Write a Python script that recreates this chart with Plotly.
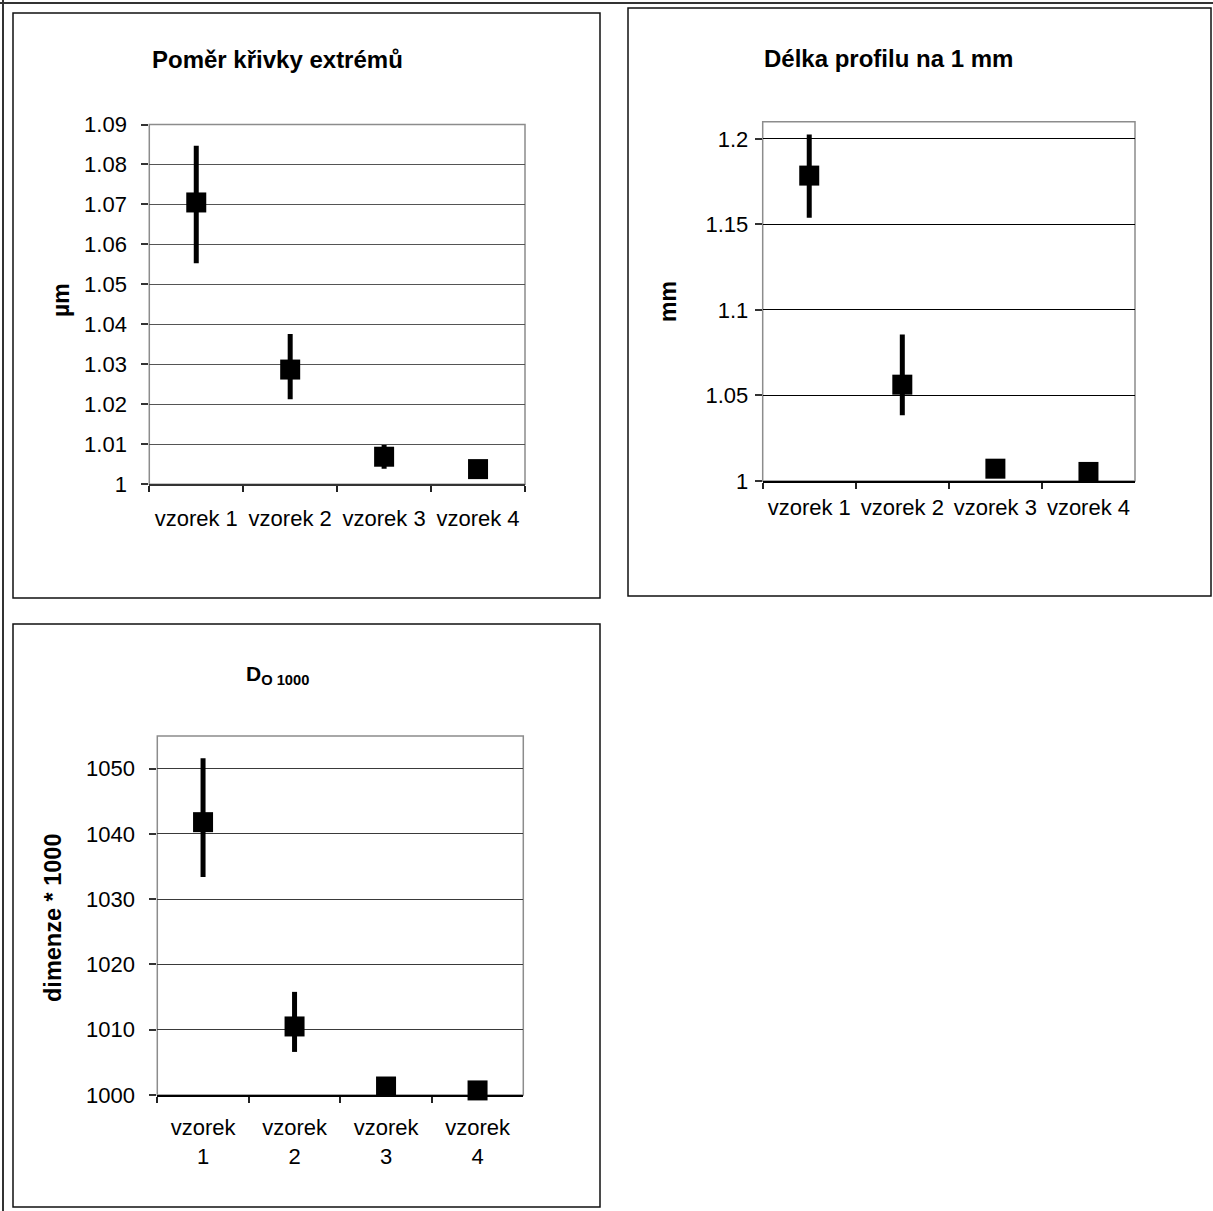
import plotly.graph_objects as go

# ---- data -------------------------------------------------------------
samples = ["vzorek 1", "vzorek 2", "vzorek 3", "vzorek 4"]
samples_wrapped = ["vzorek<br>1", "vzorek<br>2", "vzorek<br>3", "vzorek<br>4"]

# Poměr křivky extrémů [µm]
ratio_mean = [1.0705, 1.0287, 1.0069, 1.0038]
ratio_plus = [0.0142, 0.0089, 0.0029, 0.0010]
ratio_minus = [0.0152, 0.0074, 0.0030, 0.0010]
ratio_ticks = [1.00, 1.01, 1.02, 1.03, 1.04, 1.05, 1.06, 1.07, 1.08, 1.09]
ratio_ticktext = ["1", "1.01", "1.02", "1.03", "1.04", "1.05", "1.06", "1.07", "1.08", "1.09"]

# Délka profilu na 1 mm [mm]
length_mean = [1.1785, 1.0563, 1.0072, 1.0053]
length_plus = [0.0240, 0.0293, 0.0040, 0.0020]
length_minus = [0.0247, 0.0179, 0.0040, 0.0020]
length_ticks = [1.00, 1.05, 1.10, 1.15, 1.20]
length_ticktext = ["1", "1.05", "1.1", "1.15", "1.2"]

# D_O 1000 [dimenze * 1000]
dim_mean = [1041.8, 1010.5, 1001.3, 1000.7]
dim_plus = [9.8, 5.3, 1.0, 0.5]
dim_minus = [8.4, 3.9, 1.0, 0.5]
dim_ticks = [1000, 1010, 1020, 1030, 1040, 1050]
dim_ticktext = ["1000", "1010", "1020", "1030", "1040", "1050"]

# ---- page geometry (pixels) ------------------------------------------
W, H = 1213, 1211
FONT = "Liberation Sans, Arial, sans-serif"
TICK_SIZE = 22


def fx(px):
    return px / W


def fy(py):
    return 1 - py / H


panels = [
    dict(
        name="", x=samples, y=ratio_mean, plus=ratio_plus, minus=ratio_minus,
        ticks=ratio_ticks, ticktext=ratio_ticktext, yrange=[1.0, 1.09],
        xdom=[149.3, 525.0], ydom=[124.5, 484.3],
        grid="#555555", xline="#333333", ystand=10, xstand=13,
    ),
    dict(
        name="2", x=samples, y=length_mean, plus=length_plus, minus=length_minus,
        ticks=length_ticks, ticktext=length_ticktext, yrange=[1.0, 1.21],
        xdom=[762.7, 1135.0], ydom=[121.7, 481.0],
        grid="#000000", xline="#000000", ystand=2, xstand=6,
    ),
    dict(
        name="3", x=samples_wrapped, y=dim_mean, plus=dim_plus, minus=dim_minus,
        ticks=dim_ticks, ticktext=dim_ticktext, yrange=[1000, 1055],
        xdom=[157.3, 523.3], ydom=[736.0, 1095.0],
        grid="#3a3a3a", xline="#000000", ystand=10, xstand=12,
    ),
]

fig = go.Figure()
layout = dict(
    width=W, height=H,
    margin=dict(l=0, r=0, t=0, b=0, pad=0, autoexpand=False),
    paper_bgcolor="white", plot_bgcolor="white", showlegend=False,
    font=dict(family=FONT, size=TICK_SIZE, color="black"),
)
shapes = []
annotations = []

for i, p in enumerate(panels):
    n = p["name"]
    xa, ya = "x" + n, "y" + n
    xkey, ykey = "xaxis" + n, "yaxis" + n
    # overlay axes carry the inner half of the crossing tick marks
    oxkey, oykey = "xaxis" + str(4 + i), "yaxis" + str(4 + i)

    fig.add_trace(go.Scatter(
        x=p["x"], y=p["y"], xaxis=xa, yaxis=ya, mode="markers",
        marker=dict(symbol="square", size=20, color="black", line=dict(width=0)),
        error_y=dict(type="data", symmetric=False, array=p["plus"],
                     arrayminus=p["minus"], thickness=5, width=0, color="black"),
        cliponaxis=False, hoverinfo="skip",
    ))

    xdom = [fx(p["xdom"][0]), fx(p["xdom"][1])]
    ydom = [fy(p["ydom"][1]), fy(p["ydom"][0])]

    layout[xkey] = dict(
        domain=xdom, anchor=ya, type="category", categoryorder="array",
        categoryarray=p["x"], range=[-0.5, 3.5], tickson="boundaries",
        ticks="outside", ticklen=6, tickwidth=1.5, tickcolor="#222222",
        showline=True, linecolor=p["xline"], linewidth=2, showgrid=False,
        ticklabelstandoff=p["xstand"], tickfont=dict(size=TICK_SIZE, family=FONT),
        automargin=False, fixedrange=True,
    )
    layout[ykey] = dict(
        domain=ydom, anchor=xa, range=p["yrange"], tickvals=p["ticks"],
        ticktext=p["ticktext"], ticks="outside", ticklen=7, tickwidth=1.5,
        tickcolor="#333333", showline=False, showgrid=True,
        gridcolor=p["grid"], gridwidth=1, zeroline=False,
        ticklabelstandoff=p["ystand"], tickfont=dict(size=TICK_SIZE, family=FONT),
        automargin=False, fixedrange=True,
    )
    layout[oxkey] = dict(
        overlaying=xa, anchor=ya, side="bottom", type="linear",
        range=[-0.5, 3.5], tickvals=[-0.5, 0.5, 1.5, 2.5, 3.5],
        ticks="inside", ticklen=6, tickwidth=1.5, tickcolor="#222222",
        showticklabels=False, showgrid=False, showline=False, zeroline=False,
        automargin=False, fixedrange=True,
    )
    layout[oykey] = dict(
        overlaying=ya, anchor=xa, side="left", range=p["yrange"],
        tickvals=p["ticks"], ticks="inside", ticklen=6, tickwidth=1.5,
        tickcolor="#333333", showticklabels=False, showgrid=False,
        showline=False, zeroline=False, automargin=False, fixedrange=True,
    )

    # plot-area border
    shapes.append(dict(
        type="rect", xref=xa + " domain", yref=ya + " domain",
        x0=0, x1=1, y0=0, y1=1, line=dict(color="#8c8c8c", width=1.5),
        layer="below",
    ))

# chart frames
for x0, y0, x1, y1 in [(13, 13, 600, 598), (628, 8, 1211, 596), (13, 624, 600, 1207)]:
    shapes.append(dict(
        type="rect", xref="paper", yref="paper",
        x0=fx(x0), x1=fx(x1), y0=fy(y1), y1=fy(y0),
        line=dict(color="#111111", width=1.5), layer="below",
    ))
# outer page rule (top and left)
shapes.append(dict(type="line", xref="paper", yref="paper",
                   x0=0, x1=1, y0=fy(3), y1=fy(3),
                   line=dict(color="#333333", width=2)))
shapes.append(dict(type="line", xref="paper", yref="paper",
                   x0=fx(3), x1=fx(3), y0=0, y1=1,
                   line=dict(color="#333333", width=2)))


def note(text, x, y, size, angle=0):
    annotations.append(dict(
        text=text, x=fx(x), y=fy(y), textangle=angle,
        xref="paper", yref="paper", showarrow=False,
        xanchor="center", yanchor="middle",
        font=dict(size=size, family=FONT, color="black"),
    ))


# chart titles
note("<b>Poměr křivky extrémů</b>", 277, 59, 24)
note("<b>Délka profilu na 1 mm</b>", 888, 58, 24)
note("<b>D<sub>O 1000</sub></b>", 277, 675, 21)

# axis titles
note("<b>µm</b>", 61, 300, 23, -90)
note("<b>mm</b>", 668, 302, 23, -90)
note("<b>dimenze * 1000</b>", 53, 918, 23.5, -90)

layout["shapes"] = shapes
layout["annotations"] = annotations
fig.update_layout(**layout)

fig.write_html("out.html", config={"displayModeBar": False})
